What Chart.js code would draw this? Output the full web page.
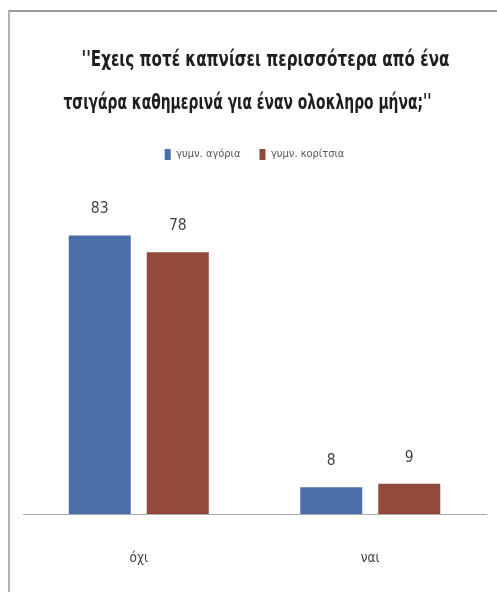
<!DOCTYPE html>
<html>
<head>
<meta charset="utf-8">
<script src="https://cdn.jsdelivr.net/npm/chart.js@4.4.1/dist/chart.umd.min.js"></script>
<style>
  html, body { margin: 0; padding: 0; background: #fff; }
  #frame {
    position: absolute; left: 8px; top: 10px;
    width: 487px; height: 580px;
    border-top: 2px solid #9a9a9a;
    border-left: 2px solid #b4b4b4;
  }
  #chart { display: block; }
</style>
</head>
<body>
<div id="frame"><canvas id="chart" width="487" height="580"></canvas></div>
<script>
// survey answers and percentages
const answers = ['όχι', 'ναι'];
const boys = [83, 8];
const girls = [78, 9];
const seriesNames = ['γυμν. αγόρια', 'γυμν. κορίτσια'];
const titleLines = ["''Εχεις ποτέ καπνίσει περισσότερα από ένα", "τσιγάρα καθημερινά για έναν ολοκληρο μήνα;''"];

const narrow = "'Liberation Sans Narrow', 'DejaVu Sans Condensed', sans-serif";

// tall, squeezed heading in the space kept free by layout.padding.top
const squeezedTitle = {
  id: 'squeezedTitle',
  afterDraw(chart) {
    const ctx = chart.ctx;
    const shift = [12, -6];
    ctx.save();
    ctx.font = 'bold 22px ' + narrow;
    ctx.fillStyle = '#1e1e1e';
    ctx.textAlign = 'center';
    ctx.textBaseline = 'middle';
    titleLines.forEach((line, i) => {
      const w = ctx.measureText(line).width;
      const sx = Math.min(1, 368 / w);
      ctx.save();
      ctx.translate(chart.width / 2 + shift[i], 48 + i * 43);
      ctx.scale(sx, 1);
      ctx.fillText(line, 0, 0);
      ctx.restore();
    });
    ctx.restore();
  }
};

// print the value above each bar
const valueLabels = {
  id: 'valueLabels',
  afterDatasetsDraw(chart) {
    const ctx = chart.ctx;
    ctx.save();
    ctx.font = '15.5px ' + narrow;
    ctx.fillStyle = '#444';
    ctx.textAlign = 'center';
    ctx.textBaseline = 'middle';
    chart.data.datasets.forEach((ds, i) => {
      chart.getDatasetMeta(i).data.forEach((bar, j) => {
        ctx.fillText(ds.data[j], bar.x, bar.y - 26);
      });
    });
    ctx.restore();
  }
};

const ctx = document.getElementById('chart');

config = {
  type: 'bar',
  data: {
    labels: answers,
    datasets: [{
      label: seriesNames[0],
      data: boys,
      backgroundColor: '#4a6fa8'
    }, {
      label: seriesNames[1],
      data: girls,
      backgroundColor: '#924a3c'
    }]
  },
  options: {
    responsive: false,
    animation: false,
    layout: { padding: { top: 118, left: 13, right: 11, bottom: 0 } },
    datasets: {
      bar: { categoryPercentage: 0.674, barPercentage: 0.795 }
    },
    plugins: {
      title: { display: false },
      legend: {
        display: true,
        labels: {
          color: '#555',
          font: { family: narrow, size: 11 },
          boxWidth: 6,
          boxHeight: 11,
          padding: 19
        }
      },
      tooltip: { enabled: false }
    },
    scales: {
      x: {
        grid: { display: false },
        border: { color: '#aaa' },
        ticks: { color: '#444', font: { family: narrow, size: 13.5 }, padding: 28 },
        // fixed band under the axis for the answer labels
        afterFit(scale) { scale.height = 78; }
      },
      y: {
        display: false,
        min: 0,
        max: 102.5
      }
    }
  },
  plugins: [valueLabels, squeezedTitle]
};

chart = new Chart(ctx, config);
</script>
</body>
</html>
